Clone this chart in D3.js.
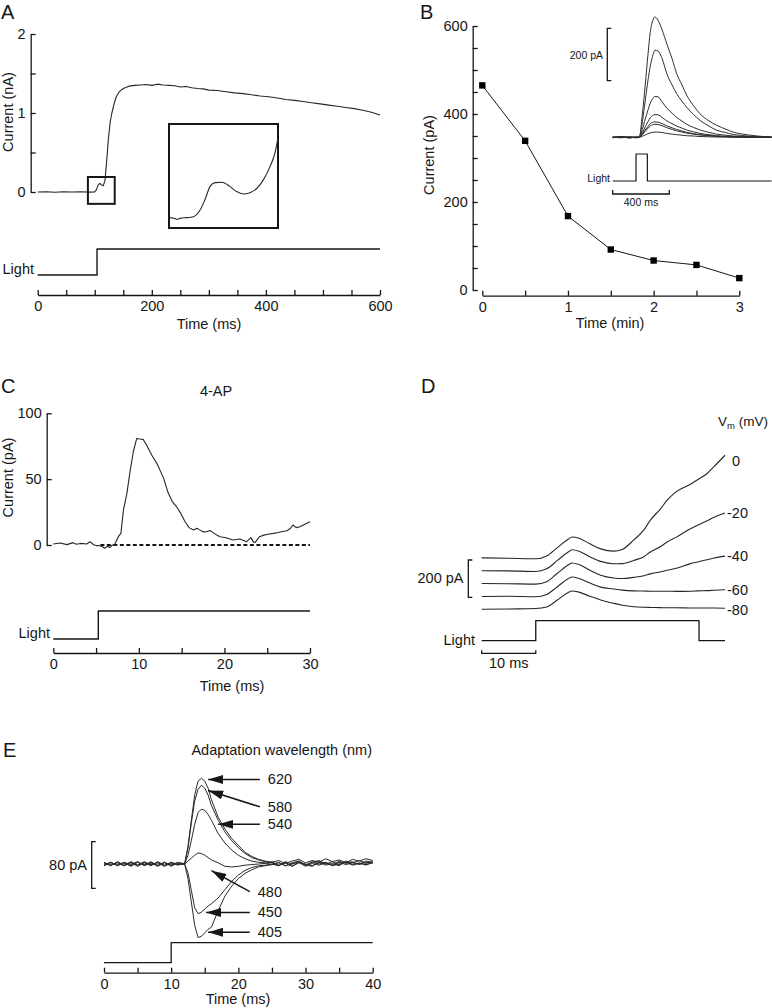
<!DOCTYPE html>
<html><head><meta charset="utf-8">
<script src="https://cdn.jsdelivr.net/npm/d3@7"></script>
<style>body{margin:0;background:#fff}</style>
</head><body><svg id="fig" width="772" height="1008"></svg>
<script>
// ---------------- DATA ----------------
// Panel A: light-evoked current (nA) vs time (ms)
const aTime = [0,15,30,45,60,75,90,100,103,106,109,112,115,118,121,124,127,130,134,138,143,150,160,170,180,190,200,210,220,230,240,250,260,270,280,290,300,315,330,345,360,375,390,405,420,435,450,465,480,495,510,525,540,555,570,585,600];
const aCurrent = [0,0.004,-0.003,0.003,0,0.004,-0.002,0.002,0.03,0.09,0.11,0.09,0.08,0.15,0.40,0.68,0.88,1.0,1.12,1.21,1.27,1.31,1.34,1.35,1.355,1.36,1.35,1.365,1.355,1.35,1.345,1.33,1.335,1.32,1.31,1.305,1.29,1.285,1.27,1.255,1.245,1.23,1.215,1.205,1.19,1.17,1.16,1.145,1.13,1.115,1.1,1.085,1.07,1.055,1.035,1.01,0.975];
const aYTicks = [0,0.5,1,1.5,2], aYLabels = [0,1,2];
const aXTicks = [0,50,100,150,200,250,300,350,400,450,500,550,600], aXLabels = [0,200,400,600];
const lightATime = [0,104,104,600], lightAState = [0,0,1,1];
// magnified window of A (inset)
const aZoomT = [88,135], aZoomC = [-0.15,0.19];
const aInsetTime = [95,96.5,97.2,98.5,100.4,102.6,104.7,106.3,108,109.6,111.8,114.4,116.6,118.7,120.9,123.1,125.2,127.4,129,129.9];
const aInsetCurrent = [10,9.2,8.4,9.5,10,10.9,17,27,40,43.6,44,40,35,32.7,34,38,46,59,72,85];

// Panel B: peak current (pA) vs time (min)
const bTime = [0,0.5,1,1.5,2,2.5,3];
const bCurrent = [465,339,168,92,67,57,27];
const bYTicks = [0,50,100,150,200,250,300,350,400,450,500,550,600], bYLabels = [0,200,400,600];
const bXTicks = [0,0.5,1,1.5,2,2.5,3], bXLabels = [0,1,2,3];
// Panel B inset traces (pA vs ms)
const bInsetTime = [0,60,120,170,188,210,230,250,265,282,299,320,350,382,420,452,490,523,570,617,680,735,800,852,910,970,1040,1124];
const bInset1 = [0,3,-3,2,0,90,200,320,400,445,460,448,410,358,300,244,200,161,122,90,63,46,31,20,13,8,4,1];
const bInset2 = [-2,2,0,-2,0,60,140,220,270,310,333,330,300,244,200,167,138,115,88,65,43,27,18,11,7,4,2,0];
const bInset3 = [1,-2,2,0,0,30,70,105,130,148,156,155,135,112,92,76,62,50,38,28,19,12,8,5,3,2,1,0];
const bInset4 = [-1,1,-2,1,0,17,40,60,74,83,87,86,76,63,52,43,35,28,21,15,10,6,4,3,2,1,0,0];
const bInset5 = [2,-1,1,-1,0,12,28,42,52,57,59,58,52,44,36,30,24,19,14,10,7,4,3,2,1,1,0,0];
const bInset6 = [0,1,-1,0,0,10,23,35,43,48,50,49,44,37,30,25,20,16,12,9,6,4,2,1,1,0,0,0];
const bInset7 = [-1,0,1,-1,0,4,9,14,17,19,20,20,18,15,12,10,8,6,5,3,2,1,1,0,0,0,0,0];
const lightBTime = [0,165,165,245,245,1124], lightBState = [0,0,1,1,0,0];

// Panel C: 4-AP current (pA) vs time (ms)
const cTime = [0,0.8,1.6,2.3,2.7,3.2,3.9,4.3,4.7,5.1,5.5,5.8,6.0,6.3,6.6,6.9,7.2,7.6,7.9,8.2,8.6,9.0,9.35,9.75,10.1,10.5,10.9,11.5,12.1,12.9,13.4,13.9,14.4,14.9,15.4,15.9,16.4,16.8,17.1,17.5,17.9,18.3,18.7,19.1,19.5,20.2,21.0,21.8,22.6,23.1,23.4,23.6,24.1,24.6,25.1,25.7,26.3,26.8,27.3,27.7,28.0,28.4,28.8,29.4,30];
const cCurrent = [0.8,1.5,0.3,1.8,0.6,1.2,0.8,2.5,0.2,-0.5,-0.6,-1.5,-2.5,-1.0,-1.8,-0.2,0.8,6.3,8.8,26.6,39.2,57,70.8,80.9,80.5,80.2,75.9,68.4,62,50.6,40,33,29.1,24,17.7,13,11.4,12.7,11.5,10,10.1,11,9.4,7.5,6.3,5.5,3.8,4.5,2.5,5.6,2.2,2.0,6.3,7.5,8.2,8.8,9.5,10.2,10.8,12.5,15.2,13.2,13.9,15.8,17.7];
const cZeroLine = [5.5,30];
const cYTicks = [0,50,100], cYLabels = [0,50,100];
const cXTicks = [0,5,10,15,20,25,30], cXLabels = [0,10,20,30];
const lightCTime = [0,5.26,5.26,30], lightCState = [0,0,1,1];

// Panel D: currents (pA) at several holding potentials vs time (ms)
const dTime = [0,5,10,12,14,16,16.7,18,20,22,24.4,26,28.1,30,31.2,33,34.3,36,38.6,40,41.7,43,45];
const dVm0   = [0,-2,-5,10,55,100,112,105,75,48,36,45,95,150,202,260,309,355,395,420,452,490,550];
const dVm20  = [0,-1,-4,10,55,100,112,104,75,50,37,38,55,75,100,128,154,180,225,245,268,287,309];
const dVm40  = [0,-1,-3,10,55,100,110,102,72,45,30,27,33,42,52,62,71,82,107,116,128,137,147];
const dVm60  = [0,1,-2,10,52,95,104,96,72,50,40,34,30,29,28,28,28,27,28,30,31,33,36];
const dVm80  = [0,2,4,12,50,90,98,92,70,50,32,22,14,11,10,9,8,8,7,7,7,7,6];
const dLabels = ["0","-20","-40","-60","-80"];
const lightDTime = [0,10,10,40.2,40.2,45], lightDState = [0,0,1,1,0,0];

// Panel E: currents (pA) after adaptation at different wavelengths
const eTime = [0,1,2,3,4,5,6,7,8,9,10,11,11.5,12,12.5,13,13.5,14,14.5,15,15.5,16,17,18,19,20,21,22,23,24,25,26,27,28,29,30,31,32,33,34,35,36,37,38,39,40];
const e620 = [2,-3,4,-2,3,-4,2,-3,4,-2,3,-1, 2,0,30,75,118,142,147,142,130,110, 80,60,44,32,20,13,8,5, 3,6,1,5,8,2,6,3,9,4,7,2,8,5,9,6];
const e580 = [-2,3,-3,2,-4,3,-2,4,-3,2,-2,3, 1,0,27,70,108,128,135,130,118,100, 75,55,40,28,18,11,7,4, 2,-3,4,0,5,-2,3,6,0,4,-1,5,2,6,1,4];
const e540 = [3,-2,2,-3,4,-2,3,-1,2,-4,2,-2, 0,0,15,40,68,88,94,92,85,75, 52,36,24,15,9,5,3,2, -1,3,-3,2,5,-2,4,0,3,-2,5,1,4,-1,3,2];
const e480 = [-3,2,-2,3,-1,4,-3,2,-2,3,-4,2, 0,0,5,10,15,19,18,15,11,7, 2,-4,-5,-4,-2,-1,0,1, 4,-2,2,-4,3,0,-3,4,1,-2,3,-1,2,0,5,3];
const e450 = [2,-2,3,-3,2,-2,4,-2,3,-3,2,-1, 0,0,-15,-45,-75,-85,-83,-77,-72,-68, -58,-44,-30,-19,-11,-6,-3,-2, 0,-3,3,-4,2,-1,-4,3,-2,1,-3,4,-1,2,-2,3];
const e405 = [-2,3,-2,2,-3,3,-1,2,-4,3,-2,2, 0,0,-25,-65,-105,-126,-124,-118,-112,-108, -80,-55,-38,-25,-16,-10,-5,-3, -1,2,-3,0,3,-4,1,-2,2,-3,0,3,-2,1,-1,2];
const eArrowLabels = ["620","580","540","480","450","405"];
const eArrowTipT  = [15.5,15.5,17.0,16.0,15.2,15.5];
const eArrowTipV  = [145,126,68,-11.5,-83,-117];
const eArrowTailT = [23.2,23.2,23.2,21.7,21.7,21.7];
const eArrowTailV = [145,98,68,-47.5,-83,-117];
const eXTicks = [0,5,10,15,20,25,30,35,40], eXLabels = [0,10,20,30,40];
const lightETime = [0,10,10,40], lightEState = [0,0,1,1];

// ---------------- DRAWING ----------------
const FONT = '"Liberation Sans", Arial, Helvetica, sans-serif';
const INK = "#161616";
const svg = d3.select("#fig");
svg.append("rect").attr("width",772).attr("height",1008).attr("fill","#fff");
svg.append("defs").append("marker").attr("id","ah")
  .attr("markerUnits","userSpaceOnUse").attr("markerWidth",16).attr("markerHeight",10)
  .attr("refX",15).attr("refY",4.5).attr("orient","auto")
  .append("path").attr("d","M0,0 L15,4.5 L0,9 Z").attr("fill",INK);

function txt(x, y, s, o = {}) {
  const t = svg.append("text").attr("x", x).attr("y", y).text(s)
    .attr("font-family", FONT).attr("font-size", o.size || 14.5)
    .attr("text-anchor", o.anchor || "start").attr("fill", INK);
  if (o.dy) t.attr("dy", o.dy);
  if (o.rotate) t.attr("transform", `rotate(-90,${x},${y})`);
  return t;
}
function trace(xs, ys, xS, yS, o = {}) {
  svg.append("path").datum(d3.zip(xs, ys))
    .attr("d", d3.line().x(d => xS(d[0])).y(d => yS(d[1])).curve(o.curve || d3.curveLinear))
    .attr("fill", "none").attr("stroke", o.color || "#262626")
    .attr("stroke-width", o.width || 1).attr("stroke-linejoin", "round")
    .attr("stroke-dasharray", o.dash || null);
}
function styleAxis(g) {
  g.selectAll("path,line").attr("stroke", INK).attr("stroke-width", 1.3);
  g.selectAll("text").attr("font-family", FONT).attr("font-size", 14.5).attr("fill", INK);
  g.attr("font-family", FONT);
}
function xAxis(scale, y, ticks, labels) {
  const ax = d3.axisBottom(scale).tickValues(ticks).tickSize(-5).tickSizeOuter(0).tickPadding(6)
    .tickFormat(d => labels.includes(d) ? String(d) : "");
  svg.append("g").attr("transform", `translate(0,${y})`).call(ax).call(styleAxis);
}
function yAxis(scale, x, ticks, labels) {
  const ax = d3.axisLeft(scale).tickValues(ticks).tickSize(-5).tickSizeOuter(0).tickPadding(5)
    .tickFormat(d => labels.includes(d) ? String(d) : "");
  svg.append("g").attr("transform", `translate(${x},0)`).call(ax).call(styleAxis);
}
function vBar(x, yBottom, len) {
  svg.append("path").attr("d", `M${x+4},${yBottom-len} H${x} V${yBottom} H${x+4}`)
    .attr("fill","none").attr("stroke",INK).attr("stroke-width",1.3);
}
function hBar(x0, x1, y, tick) {
  svg.append("path").attr("d", `M${x0},${y-tick} V${y} H${x1} V${y-tick}`)
    .attr("fill","none").attr("stroke",INK).attr("stroke-width",1.3);
}
function panelLetter(x, y, s) { txt(x, y, s, {size: 20}); }

// ----- Panel A -----
const xA = d3.scaleLinear([0,600],[37.7,380]);
const yA = d3.scaleLinear([0,2],[192,34]);
const lA = d3.scaleLinear([0,1],[275,249]);
panelLetter(1, 19, "A");
yAxis(yA, 30.7, aYTicks, aYLabels);
xAxis(xA, 295, aXTicks, aXLabels);
trace(aTime, aCurrent, xA, yA, {width: 1.1});
trace(lightATime, lightAState, xA, lA, {width: 1.4, color: INK});
txt(13, 112, "Current (nA)", {anchor: "middle", rotate: true});
txt(209, 329, "Time (ms)", {anchor: "middle"});
txt(34, 274, "Light", {anchor: "end"});
svg.append("rect").attr("x", xA(aZoomT[0])).attr("y", yA(aZoomC[1]))
  .attr("width", xA(aZoomT[1]) - xA(aZoomT[0])).attr("height", yA(aZoomC[0]) - yA(aZoomC[1]))
  .attr("fill","none").attr("stroke",INK).attr("stroke-width",2);
svg.append("rect").attr("x",169).attr("y",124).attr("width",109).attr("height",104)
  .attr("fill","none").attr("stroke",INK).attr("stroke-width",2);
const xAI = d3.scaleLinear([95,130],[170,278]);
const yAI = d3.scaleLinear([0,100],[228,124]);
trace(aInsetTime, aInsetCurrent, xAI, yAI, {width: 1.1, curve: d3.curveMonotoneX});

// ----- Panel B -----
const xB = d3.scaleLinear([0,3],[482.3,739.3]);
const yB = d3.scaleLinear([0,600],[290,26]);
panelLetter(420, 19, "B");
yAxis(yB, 472.7, bYTicks, bYLabels);
xAxis(xB, 295.7, bXTicks, bXLabels);
trace(bTime, bCurrent, xB, yB, {width: 1, color: INK});
svg.append("g").selectAll("rect").data(d3.zip(bTime, bCurrent)).join("rect")
  .attr("x", d => xB(d[0]) - 3.2).attr("y", d => yB(d[1]) - 3.2)
  .attr("width", 6.4).attr("height", 6.4).attr("fill", "#000");
txt(434, 155, "Current (pA)", {anchor: "middle", rotate: true});
txt(610, 328, "Time (min)", {anchor: "middle"});
// inset
const xBI = d3.scaleLinear([0,1124],[612.7,771.7]);
const yBI = d3.scaleLinear([0,200],[137.3,85]);
const lBI = d3.scaleLinear([0,1],[181,154]);
[bInset7,bInset6,bInset5,bInset4,bInset3,bInset2,bInset1].forEach(v =>
  trace(bInsetTime, v, xBI, yBI, {width: 1, curve: d3.curveMonotoneX, color: "#2e2e2e"}));
trace(lightBTime, lightBState, xBI, lBI, {width: 1.2, color: INK});
vBar(607.3, 80.7, yBI(0) - yBI(200));
txt(603, 59, "200 pA", {anchor: "end", size: 10.5});
txt(610, 182, "Light", {anchor: "end", size: 10.5});
hBar(xBI(0), xBI(400), 194, 4);
txt((xBI(0) + xBI(400)) / 2, 206, "400 ms", {anchor: "middle", size: 10.5});

// ----- Panel C -----
const xC = d3.scaleLinear([0,30],[53.3,310]);
const yC = d3.scaleLinear([0,100],[545,413.3]);
const lC = d3.scaleLinear([0,1],[639,611]);
panelLetter(1, 393, "C");
txt(216, 396, "4-AP", {anchor: "middle"});
yAxis(yC, 46.7, cYTicks, cYLabels);
xAxis(xC, 653, cXTicks, cXLabels);
trace(cZeroLine, [0,0], xC, yC, {width: 1.8, color: INK, dash: "4,2.5"});
trace(cTime, cCurrent, xC, yC, {width: 1.1});
trace(lightCTime, lightCState, xC, lC, {width: 1.4, color: INK});
txt(12.5, 477.5, "Current (pA)", {anchor: "middle", rotate: true});
txt(232, 691, "Time (ms)", {anchor: "middle"});
txt(50, 638, "Light", {anchor: "end"});

// ----- Panel D -----
const xD = d3.scaleLinear([0,45],[481.7,725]);
const yD = d3.scaleLinear([0,200],[609.3,572]);
const lD = d3.scaleLinear([0,1],[640.7,620.7]);
const dOffsetStep = 69;
panelLetter(421, 393, "D");
const dSeries = [dVm0, dVm20, dVm40, dVm60, dVm80];
const dLabelDx = [7,2,2,2,2], dLabelDy = [6,0,0,0,2];
dSeries.forEach((v, i) => {
  const off = (dSeries.length - 1 - i) * dOffsetStep;
  const shifted = v.map(d => d + off);
  trace(dTime, shifted, xD, yD, {width: 1.1, curve: d3.curveMonotoneX});
  txt(xD(dTime[dTime.length - 1]) + dLabelDx[i], yD(shifted[shifted.length - 1]) + dLabelDy[i], dLabels[i], {dy: "0.35em"});
});
const vm = txt(768, 425.5, "V", {anchor: "end", size: 13.5});
vm.append("tspan").attr("font-size", 9.5).attr("dy", 3).text("m");
vm.append("tspan").attr("dy", -3).text(" (mV)");
vBar(468.3, 597.3, yD(0) - yD(200));
txt(463.5, 583, "200 pA", {anchor: "end"});
trace(lightDTime, lightDState, xD, lD, {width: 1.3, color: INK});
txt(475, 645, "Light", {anchor: "end"});
hBar(xD(0), xD(10), 653.3, 3);
txt((xD(0) + xD(10)) / 2, 668, "10 ms", {anchor: "middle"});

// ----- Panel E -----
const xE = d3.scaleLinear([0,40],[104,372.7]);
const yE = d3.scaleLinear([-150,150],[951.5,776.5]);
const lE = d3.scaleLinear([0,1],[962.7,942.7]);
panelLetter(3, 757, "E");
txt(281.7, 755, "Adaptation wavelength (nm)", {anchor: "middle"});
[e480, e450, e405, e540, e580, e620].forEach(v =>
  trace(eTime, v, xE, yE, {width: 1, color: "#2a2a2a"}));
vBar(91.7, 888.3, yE(0) - yE(80));
txt(87, 870, "80 pA", {anchor: "end"});
eArrowLabels.forEach((lab, i) => {
  svg.append("line")
    .attr("x1", xE(eArrowTailT[i])).attr("y1", yE(eArrowTailV[i]))
    .attr("x2", xE(eArrowTipT[i])).attr("y2", yE(eArrowTipV[i]))
    .attr("stroke", INK).attr("stroke-width", 1.5).attr("marker-end", "url(#ah)");
  txt(xE(eArrowTailT[i]) + 8, yE(eArrowTailV[i]), lab, {dy: "0.35em"});
});
trace(lightETime, lightEState, xE, lE, {width: 1.3, color: INK});
xAxis(xE, 972.7, eXTicks, eXLabels);
txt(238, 1003.5, "Time (ms)", {anchor: "middle"});
</script>
</body></html>
